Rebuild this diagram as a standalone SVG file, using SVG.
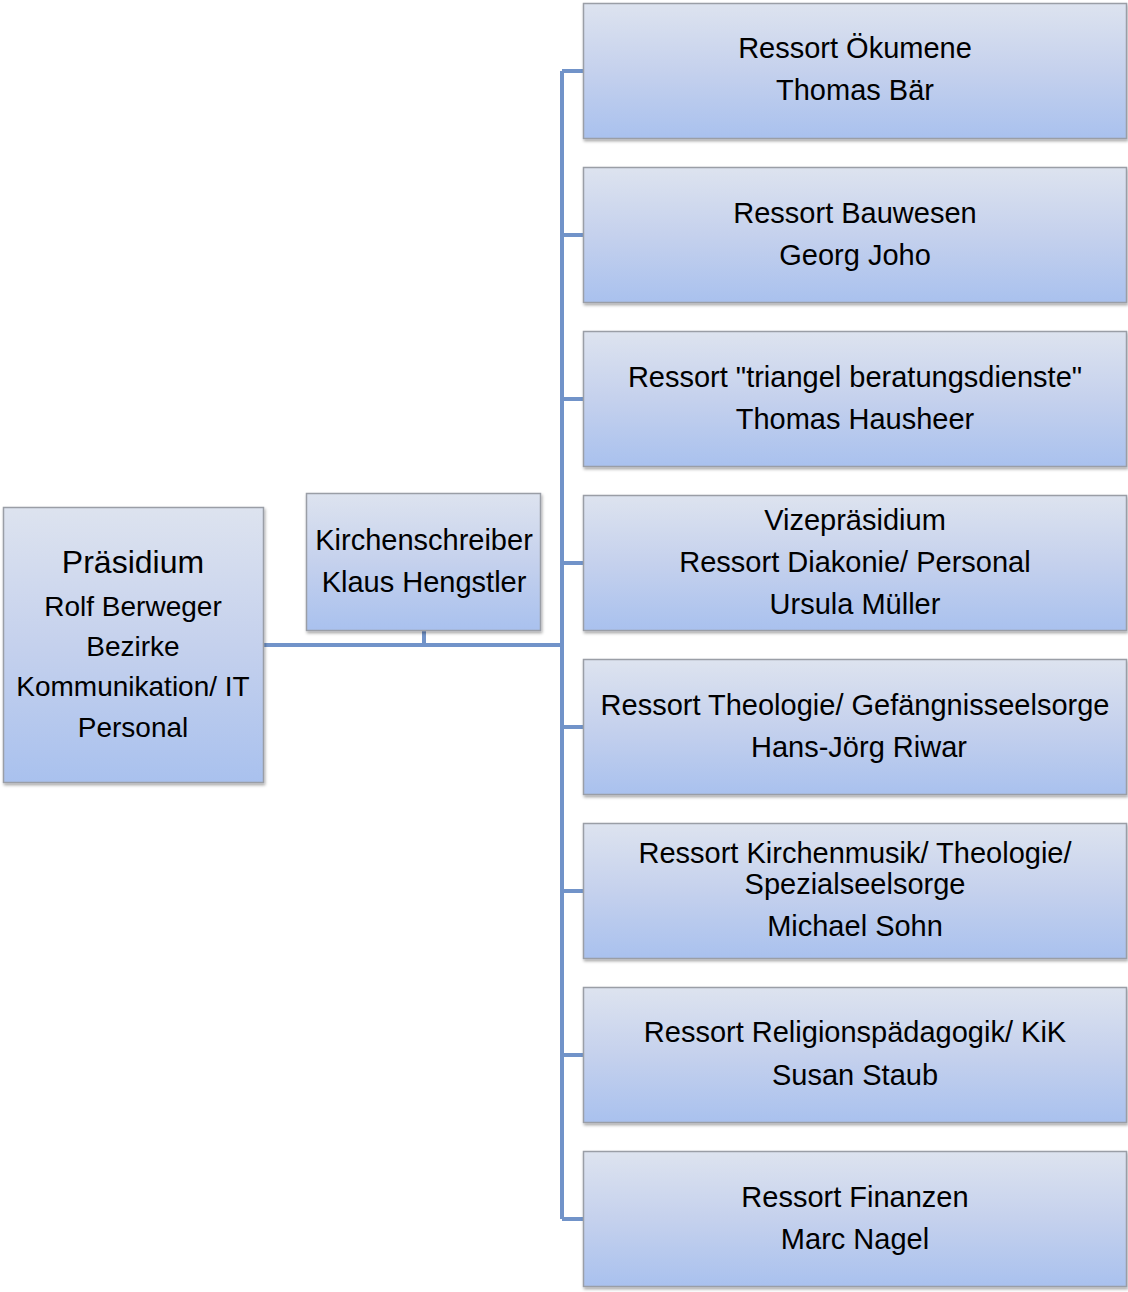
<svg xmlns="http://www.w3.org/2000/svg" width="1128" height="1292" viewBox="0 0 1128 1292">
<defs>
<linearGradient id="g" x1="0" y1="0" x2="0" y2="1">
<stop offset="0" stop-color="#dde3ef"/>
<stop offset="0.5" stop-color="#c5d1ed"/>
<stop offset="1" stop-color="#a9c1ee"/>
</linearGradient>
<filter id="sh" x="-5%" y="-5%" width="110%" height="115%">
<feDropShadow dx="1" dy="2" stdDeviation="1.5" flood-color="#000" flood-opacity="0.35"/>
</filter>
</defs>
<style>
.box{fill:url(#g);stroke:#9a9ea6;stroke-width:1.5;filter:url(#sh)}
.t{font-family:"Liberation Sans",Arial,sans-serif;font-size:29px;fill:#000;text-anchor:middle}
.s{font-size:28px}
.b{font-size:32px}
.c{fill:none;stroke:#7193c9;stroke-width:4}
</style>
<rect width="1128" height="1292" fill="#fff"/>
<g id="connectors">
<path class="c" d="M264 645 H562 M424 631 V645 M562 71 V1219"/>
<path class="c" d="M562 71 H584 M562 235 H584 M562 399 H584 M562 563 H584 M562 727 H584 M562 891 H584 M562 1055 H584 M562 1219 H584"/>
</g>
<g id="praesidium">
<rect class="box" x="3.5" y="507.5" width="260" height="275"/>
<text class="t b" x="133" y="573">Präsidium</text>
<text class="t s" x="133" y="616">Rolf Berweger</text>
<text class="t s" x="133" y="656">Bezirke</text>
<text class="t s" x="133" y="696">Kommunikation/ IT</text>
<text class="t s" x="133" y="737">Personal</text>
</g>
<g id="kirchenschreiber">
<rect class="box" x="306.5" y="493.5" width="234" height="137"/>
<text class="t" x="424" y="550">Kirchenschreiber</text>
<text class="t" x="424" y="592">Klaus Hengstler</text>
</g>
<g id="oekumene">
<rect class="box" x="583.5" y="3.5" width="543" height="135"/>
<text class="t" x="855" y="58">Ressort Ökumene</text>
<text class="t" x="855" y="100">Thomas Bär</text>
</g>
<g id="bauwesen">
<rect class="box" x="583.5" y="167.5" width="543" height="135"/>
<text class="t" x="855" y="223">Ressort Bauwesen</text>
<text class="t" x="855" y="265">Georg Joho</text>
</g>
<g id="triangel">
<rect class="box" x="583.5" y="331.5" width="543" height="135"/>
<text class="t" x="855" y="387">Ressort "triangel beratungsdienste"</text>
<text class="t" x="855" y="429">Thomas Hausheer</text>
</g>
<g id="vize">
<rect class="box" x="583.5" y="495.5" width="543" height="135"/>
<text class="t" x="855" y="530">Vizepräsidium</text>
<text class="t" x="855" y="572">Ressort Diakonie/ Personal</text>
<text class="t" x="855" y="614">Ursula Müller</text>
</g>
<g id="theologie">
<rect class="box" x="583.5" y="659.5" width="543" height="135"/>
<text class="t" x="855" y="715">Ressort Theologie/ Gefängnisseelsorge</text>
<text class="t" x="859" y="757">Hans-Jörg Riwar</text>
</g>
<g id="kirchenmusik">
<rect class="box" x="583.5" y="823.5" width="543" height="135"/>
<text class="t" x="855" y="863">Ressort Kirchenmusik/ Theologie/</text>
<text class="t" x="855" y="894">Spezialseelsorge</text>
<text class="t" x="855" y="936">Michael Sohn</text>
</g>
<g id="religion">
<rect class="box" x="583.5" y="987.5" width="543" height="135"/>
<text class="t" x="855" y="1042">Ressort Religionspädagogik/ KiK</text>
<text class="t" x="855" y="1085">Susan Staub</text>
</g>
<g id="finanzen">
<rect class="box" x="583.5" y="1151.5" width="543" height="135"/>
<text class="t" x="855" y="1207">Ressort Finanzen</text>
<text class="t" x="855" y="1249">Marc Nagel</text>
</g>
</svg>
